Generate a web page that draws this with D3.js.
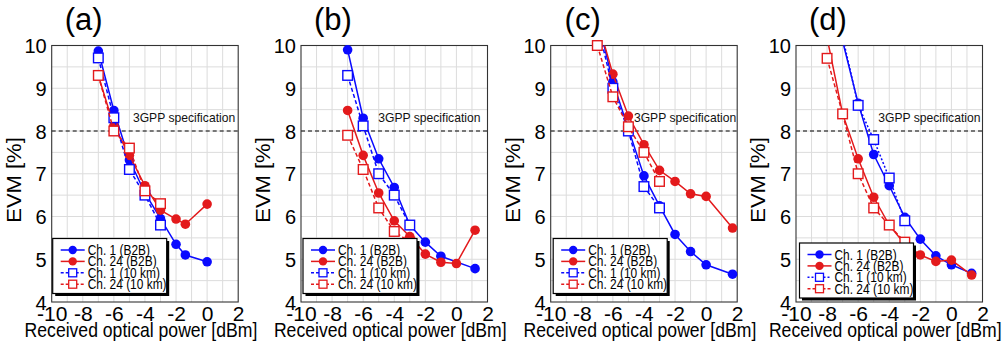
<!DOCTYPE html>
<html><head><meta charset="utf-8">
<script src="https://cdn.jsdelivr.net/npm/d3@7"></script>
<style>html,body{margin:0;padding:0;background:#fff;}svg{display:block;font-family:"Liberation Sans",Arial,sans-serif;}</style>
</head><body><svg id="c" width="1004" height="348"></svg>
<script>
// ---- data (x: received optical power [dBm], y: EVM [%]) ----
const panelTitles = ["(a)", "(b)", "(c)", "(d)"];
const seriesNames = ["Ch. 1 (B2B)", "Ch. 24 (B2B)", "Ch. 1 (10 km)", "Ch. 24 (10 km)"];
const xTicks = [-10, -8, -6, -4, -2, 0, 2];
const yTicks = [4, 5, 6, 7, 8, 9, 10];
const specLevel = 8;
const specLabel = "3GPP specification";

const a_ch1_b2b  = [[-7,9.87],[-6,8.48],[-5,7.32],[-4,6.55],[-3,5.95],[-2,5.35],[-1.4,5.1],[0,4.94]];
const a_ch24_b2b = [[-7,9.3],[-6,8.12],[-5,7.43],[-4,6.72],[-3,6.15],[-2,5.94],[-1.4,5.82],[0,6.29]];
const a_ch1_10   = [[-7,9.71],[-6,8.31],[-5,7.1],[-4,6.5],[-3,5.8]];
const a_ch24_10  = [[-7,9.3],[-6,8.0],[-5,7.6],[-4,6.6],[-3,6.3]];

const b_ch1_b2b  = [[-7,9.9],[-6,8.3],[-5,7.35],[-4,6.68],[-3,5.8],[-2,5.4],[-1,5.07],[1.2,4.78]];
const b_ch24_b2b = [[-7,8.48],[-6,7.43],[-5,6.55],[-4,5.9],[-3,5.53],[-2,5.12],[-1,4.93],[0,4.9],[1.2,5.68]];
const b_ch1_10   = [[-7,9.3],[-6,8.12],[-5,7.0],[-4,6.5],[-3,5.8]];
const b_ch24_10  = [[-7,7.9],[-6,7.1],[-5,6.2],[-4,5.65],[-3,5.4]];

const c_ch1_b2b  = [[-7,10.65],[-6,9.15],[-5,8.05],[-4,6.95],[-3,6.25],[-2,5.58],[-1,5.18],[0,4.87],[1.7,4.65]];
const c_ch24_b2b = [[-7,10.6],[-6,9.33],[-5,8.35],[-4,7.68],[-3,7.08],[-2,6.82],[-1,6.53],[0,6.47],[1.7,5.73]];
const c_ch1_10   = [[-7,10.5],[-6,9.0],[-5,8.0],[-4,6.7],[-3,6.2]];
const c_ch24_10  = [[-7,10.0],[-6,8.8],[-5,8.1],[-4,7.5],[-3,6.82]];

const d_ch1_b2b  = [[-7,10.1],[-6,8.65],[-5,7.45],[-4,6.72],[-3,5.98],[-2,5.47],[-1,5.08],[0,4.87],[1.3,4.67]];
const d_ch24_b2b = [[-8,10.18],[-7,8.4],[-6,7.35],[-5,6.45],[-4,5.8],[-3,5.35],[-2,5.1],[-1,4.95],[0,4.98],[1.3,4.63]];
const d_ch1_10   = [[-7,10.2],[-6,8.6],[-5,7.8],[-4,6.9],[-3,5.9]];
const d_ch24_10  = [[-8,9.7],[-7,8.4],[-6,7.0],[-5,6.2],[-4,5.8],[-3,5.4]];

const panelData = [
  [a_ch1_b2b, a_ch24_b2b, a_ch1_10, a_ch24_10],
  [b_ch1_b2b, b_ch24_b2b, b_ch1_10, b_ch24_10],
  [c_ch1_b2b, c_ch24_b2b, c_ch1_10, c_ch24_10],
  [d_ch1_b2b, d_ch24_b2b, d_ch1_10, d_ch24_10]
];

// ---- layout / style ----
const BLUE = "#0a0aff", RED = "#e31a1c";
const seriesStyle = [
  {color: BLUE, dash: null, marker: "circle"},
  {color: RED,  dash: null, marker: "circle"},
  {color: BLUE, dash: "4,2.5", marker: "square"},
  {color: RED,  dash: "4,2.5", marker: "square"}
];
const panelLefts = [51.7, 301, 550.7, 796];
const plotW = 186.5, plotTop = 45.5, plotBottom = 302;
const specRightPad = [3, 7, 1, 2];
const legendOffsets = [[1, 238.5], [2, 238.5], [2.5, 238.5], [3.5, 243]];

const svg = d3.select("#c");

panelData.forEach((series, p) => {
  const L = panelLefts[p];
  const x = d3.scaleLinear().domain([-10, 2]).range([L, L + plotW]);
  const y = d3.scaleLinear().domain([4, 10]).range([plotBottom, plotTop]);
  const g = svg.append("g");

  // grid
  g.append("rect").attr("x", L).attr("y", plotTop).attr("width", plotW).attr("height", plotBottom - plotTop).attr("fill", "#fff");
  g.selectAll(".vg").data(d3.range(-9, 2, 1)).join("line")
    .attr("x1", d => x(d)).attr("x2", d => x(d)).attr("y1", plotTop).attr("y2", plotBottom)
    .attr("stroke", "#dcdcdc").attr("stroke-width", 1);
  g.selectAll(".hg").data(d3.range(4.5, 10, 0.5)).join("line")
    .attr("x1", L).attr("x2", L + plotW).attr("y1", d => y(d)).attr("y2", d => y(d))
    .attr("stroke", "#dcdcdc").attr("stroke-width", 1);

  // spec line
  g.append("line").attr("x1", L).attr("x2", L + plotW).attr("y1", y(specLevel)).attr("y2", y(specLevel))
    .attr("stroke", "#000").attr("stroke-width", 1.2).attr("stroke-dasharray", "4,3");
  g.append("text").text(specLabel)
    .attr("transform", `translate(${L + plotW - specRightPad[p]},${y(specLevel) - 9.5}) scale(0.92,1)`)
    .attr("text-anchor", "end").attr("font-size", 13.2).attr("fill", "#111");

  // frame
  g.append("rect").attr("x", L).attr("y", plotTop).attr("width", plotW).attr("height", plotBottom - plotTop)
    .attr("fill", "none").attr("stroke", "#333").attr("stroke-width", 1.1);

  // clip
  const cid = "clip" + p;
  svg.append("clipPath").attr("id", cid).append("rect")
    .attr("x", L).attr("y", plotTop).attr("width", plotW).attr("height", plotBottom - plotTop);

  const line = d3.line().x(d => x(d[0])).y(d => y(d[1]));
  series.forEach((data, s) => {
    const st = seriesStyle[s];
    let dash = st.dash;
    if (p === 3 && s === 2) dash = "2,2";
    g.append("path").datum(data).attr("d", line).attr("fill", "none")
      .attr("stroke", st.color).attr("stroke-width", 1.5)
      .attr("stroke-dasharray", dash).attr("clip-path", `url(#${cid})`);
    const vis = data.filter(d => d[1] <= 10.05);
    if (st.marker === "circle") {
      g.selectAll(null).data(vis).join("circle")
        .attr("cx", d => x(d[0])).attr("cy", d => y(d[1])).attr("r", 4.8).attr("fill", st.color);
    } else {
      g.selectAll(null).data(vis).join("rect")
        .attr("x", d => x(d[0]) - 4.8).attr("y", d => y(d[1]) - 4.8).attr("width", 9.6).attr("height", 9.6)
        .attr("fill", "#fff").attr("stroke", st.color).attr("stroke-width", 1.4);
    }
  });

  // axes
  const xa = g.append("g").attr("transform", `translate(0,${plotBottom})`)
    .call(d3.axisBottom(x).tickValues(xTicks).tickSize(0).tickFormat(d => String(d)));
  xa.select(".domain").remove();
  xa.selectAll("text").attr("y", 19).attr("dy", null)
    .attr("font-size", 21).attr("font-family", "Liberation Sans, Arial, sans-serif").attr("fill", "#000");

  const ya = g.append("g").attr("transform", `translate(${L},0)`)
    .call(d3.axisLeft(y).tickValues(yTicks).tickSize(0).tickFormat(d => String(d)));
  ya.select(".domain").remove();
  ya.selectAll("text").attr("x", -5).attr("dy", "0.36em")
    .attr("font-size", 20).attr("font-family", "Liberation Sans, Arial, sans-serif").attr("fill", "#000");

  // axis titles
  g.append("text").text("Received optical power [dBm]")
    .attr("transform", `translate(${L + plotW / 2 - 4},337) scale(0.88,1)`)
    .attr("text-anchor", "middle").attr("font-size", 20).attr("fill", "#000");
  g.append("text").text("EVM [%]")
    .attr("transform", `translate(${L - 31},180) rotate(-90) scale(1,0.92)`)
    .attr("text-anchor", "middle").attr("font-size", 22).attr("fill", "#000");
  g.append("text").text(panelTitles[p])
    .attr("x", L + 32).attr("y", 30).attr("text-anchor", "middle").attr("font-size", 31).attr("fill", "#000");

  // legend
  const lx = L + legendOffsets[p][0], ly = legendOffsets[p][1];
  const lw = 114, lh = 55;
  const lg = g.append("g");
  lg.append("rect").attr("x", lx + 2.5).attr("y", ly + 2.5).attr("width", lw).attr("height", lh).attr("fill", "#000");
  lg.append("rect").attr("x", lx).attr("y", ly).attr("width", lw).attr("height", lh)
    .attr("fill", "#fff").attr("stroke", "#000").attr("stroke-width", 1.2);
  seriesNames.forEach((name, s) => {
    const st = seriesStyle[s];
    let dash = st.dash ? "3,2" : null;
    if (p === 3 && s === 2) dash = "2,2";
    const yy = ly + 11.5 + s * 11.4;
    lg.append("line").attr("x1", lx + 8).attr("x2", lx + 32).attr("y1", yy).attr("y2", yy)
      .attr("stroke", st.color).attr("stroke-width", 1.5).attr("stroke-dasharray", dash);
    if (st.marker === "circle") {
      lg.append("circle").attr("cx", lx + 20).attr("cy", yy).attr("r", 4.2).attr("fill", st.color);
    } else {
      lg.append("rect").attr("x", lx + 16).attr("y", yy - 4).attr("width", 8).attr("height", 8)
        .attr("fill", "#fff").attr("stroke", st.color).attr("stroke-width", 1.3);
    }
    lg.append("text").text(name)
      .attr("transform", `translate(${lx + 35},${yy + 5}) scale(0.84,1)`)
      .attr("font-size", 14.2).attr("fill", "#000");
  });
});
</script></body></html>
